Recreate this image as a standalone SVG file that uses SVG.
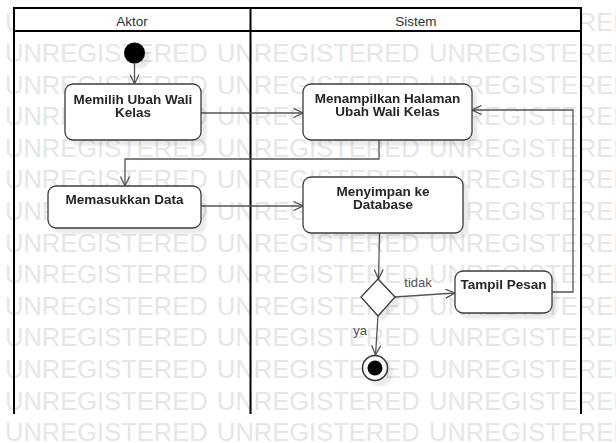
<svg xmlns="http://www.w3.org/2000/svg" width="616" height="443" viewBox="0 0 616 443">
<defs>
<style>
.wm{font-family:"Liberation Sans",Arial,sans-serif;font-size:25.5px;fill:#e6e6e6}
.frame{stroke:#000;stroke-width:2;fill:none}
.hdr{font-family:"Liberation Sans",Arial,sans-serif;font-size:13.5px;fill:#333;text-anchor:middle}
.box{fill:#fff;stroke:#3c3c3c;stroke-width:1.3}
.lbl{font-family:"Liberation Sans",Arial,sans-serif;font-size:13.5px;font-weight:bold;fill:#262626;text-anchor:middle}
.edge{fill:none;stroke:#555;stroke-width:1.3}
.elbl{font-family:"Liberation Sans",Arial,sans-serif;font-size:13px;fill:#555;text-anchor:middle}
</style>
<filter id="sh" x="-20%" y="-20%" width="150%" height="150%"><feDropShadow dx="5" dy="5" stdDeviation="1.2" flood-color="#000" flood-opacity="0.08"/></filter>
<marker id="arr" markerUnits="userSpaceOnUse" markerWidth="12" markerHeight="10" refX="10" refY="5" orient="auto" viewBox="0 0 12 10"><path d="M0.5,0.5 L10,5 L0.5,9.5" fill="none" stroke="#555" stroke-width="1.3"/></marker>
<g id="wmrow"><text class="wm" x="5">UNREGISTERED</text><text class="wm" x="217">UNREGISTERED</text><text class="wm" x="429">UNREGISTERED</text></g>
</defs>
<rect width="616" height="443" fill="#fff"/>
<g id="watermark">
<use href="#wmrow" y="30.5"/><use href="#wmrow" y="62"/><use href="#wmrow" y="93.6"/><use href="#wmrow" y="125.2"/><use href="#wmrow" y="156.8"/><use href="#wmrow" y="188.4"/><use href="#wmrow" y="220"/><use href="#wmrow" y="251.6"/><use href="#wmrow" y="283.2"/><use href="#wmrow" y="314.8"/><use href="#wmrow" y="346.4"/><use href="#wmrow" y="378"/><use href="#wmrow" y="409.6"/><use href="#wmrow" y="441.2"/>
</g>
<g id="swimlanes">
<rect x="14" y="8" width="567" height="23" fill="#fff"/>
<path class="frame" d="M14,414 V8 H581 V414 M250.5,8 V414 M14,31 H581"/>
<text class="hdr" x="132" y="25.5">Aktor</text>
<text class="hdr" x="416" y="25.5">Sistem</text>
</g>
<g id="connectors">
<path class="edge" d="M134.5,63.5 V84" marker-end="url(#arr)"/>
<path class="edge" d="M201,113 H303" marker-end="url(#arr)"/>
<path class="edge" d="M379,140 V159 H125 V186" marker-end="url(#arr)"/>
<path class="edge" d="M201,206 H303" marker-end="url(#arr)"/>
<path class="edge" d="M379.5,233 L378.5,279" marker-end="url(#arr)"/>
<path class="edge" d="M395,297 L455,293" marker-end="url(#arr)"/>
<path class="edge" d="M552,292 H573 V110 H472" marker-end="url(#arr)"/>
<path class="edge" d="M378,316 L375.5,355" marker-end="url(#arr)"/>
<text class="elbl" x="418" y="287">tidak</text>
<text class="elbl" x="360" y="335">ya</text>
</g>
<g id="start" filter="url(#sh)"><circle cx="134.5" cy="53" r="10.5" fill="#000"/></g>
<g id="memilih" filter="url(#sh)">
<rect class="box" x="65" y="84" width="136" height="56" rx="8"/>
<text class="lbl" x="133" y="103.5">Memilih Ubah Wali</text>
<text class="lbl" x="133" y="116.5">Kelas</text>
</g>
<g id="menampilkan" filter="url(#sh)">
<rect class="box" x="303" y="84" width="169" height="56" rx="8"/>
<text class="lbl" x="387.5" y="102.5">Menampilkan Halaman</text>
<text class="lbl" x="387.5" y="115.5">Ubah Wali Kelas</text>
</g>
<g id="memasukkan" filter="url(#sh)">
<rect class="box" x="48" y="186" width="153" height="42" rx="8"/>
<text class="lbl" x="124.5" y="204">Memasukkan Data</text>
</g>
<g id="menyimpan" filter="url(#sh)">
<rect class="box" x="303" y="177" width="160" height="56" rx="8"/>
<text class="lbl" x="383" y="195.5">Menyimpan ke</text>
<text class="lbl" x="383" y="208.5">Database</text>
</g>
<g id="decision" filter="url(#sh)">
<path class="box" d="M378,279 L395,297 L378,316 L361,297 Z"/>
</g>
<g id="tampil" filter="url(#sh)">
<rect class="box" x="455" y="271" width="97" height="42" rx="8"/>
<text class="lbl" x="503.5" y="289">Tampil Pesan</text>
</g>
<g id="end" filter="url(#sh)">
<circle cx="375" cy="368" r="12.5" fill="#fff" stroke="#333" stroke-width="1.5"/>
<circle cx="375" cy="368" r="7.5" fill="#000"/>
</g>
</svg>
